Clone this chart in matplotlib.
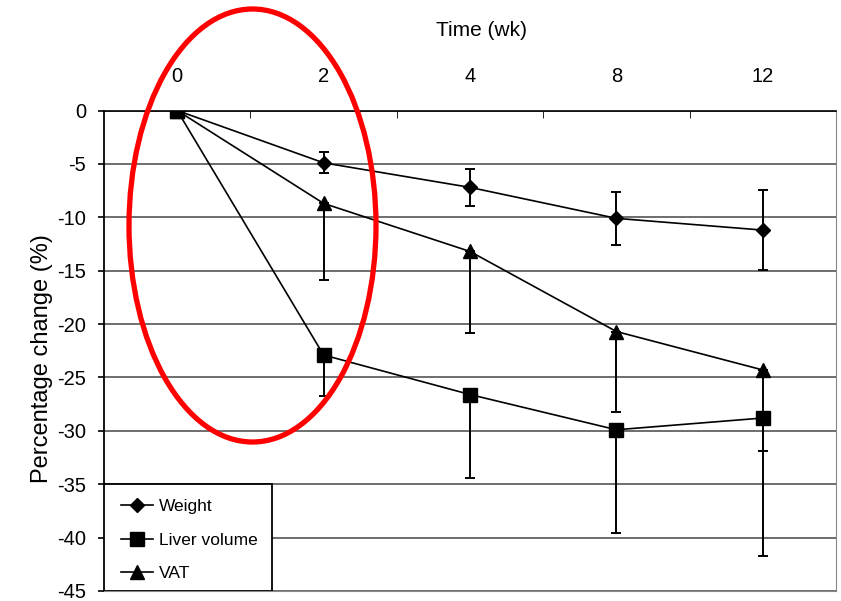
import matplotlib
matplotlib.use("Agg")
import matplotlib.pyplot as plt
from matplotlib.patches import Ellipse, Rectangle
from matplotlib.lines import Line2D
import numpy as np

plt.rcParams['font.family'] = ['Liberation Sans', 'DejaVu Sans']

# ---- data ----
weeks = ['0', '2', '4', '8', '12']
weight = [0, -4.9, -7.2, -10.1, -11.2]
weight_err = [0, 1.0, 1.7, 2.45, 3.75]
liver = [0, -22.9, -26.6, -29.9, -28.8]
liver_err_low = [0, 3.8, 7.8, 9.7, 12.9]
vat = [0, -8.7, -13.2, -20.7, -24.3]
vat_err_low = [0, 7.2, 7.6, 7.5, 7.6]
y_ticks = [0, -5, -10, -15, -20, -25, -30, -35, -40, -45]

fig = plt.figure(figsize=(8.41, 6.01), dpi=100)
ax = fig.add_axes([104/841, 1-591/601, 732/841, 480.5/601])

x = np.arange(len(weeks))
lw = 1.2
ekw = dict(ecolor='black', elinewidth=1.4, capsize=3.5, capthick=1.4)
styles = {'Weight': dict(marker='D', ms=7.5),
          'Liver volume': dict(marker='s', ms=9.5),
          'VAT': dict(marker='^', ms=9.5)}

ax.errorbar(x, weight, yerr=weight_err, color='black', lw=lw,
            mfc='black', mec='black', zorder=3, **styles['Weight'], **ekw)
ax.errorbar(x, vat, yerr=[vat_err_low, [0]*len(x)], color='black', lw=lw,
            mfc='black', mec='black', zorder=3, **styles['VAT'], **ekw)
ax.errorbar(x, liver, yerr=[liver_err_low, [0]*len(x)], color='black', lw=lw,
            mfc='black', mec='black', zorder=3, **styles['Liver volume'], **ekw)

ax.set_xlim(-0.5, len(weeks) - 0.5)
ax.set_ylim(-45, 0)
ax.set_yticks(y_ticks)
ax.set_yticklabels([str(v) for v in y_ticks], fontsize=14.5)
ax.yaxis.grid(True, color='#555555', lw=1.2)
ax.set_axisbelow(True)

ax.xaxis.tick_top()
ax.set_xticks(x)
ax.set_xticklabels(weeks, fontsize=14.5)
ax.tick_params(axis='x', which='major', length=0, pad=18)
ax.set_xticks(x[:-1] + 0.5, minor=True)
ax.tick_params(axis='x', which='minor', direction='in', length=5, top=True, bottom=False)
ax.tick_params(axis='y', length=4, width=1.2, pad=9)

ax.spines['left'].set_linewidth(1.3)
ax.spines['top'].set_linewidth(1.2)
ax.spines['right'].set_color('#888888')
ax.spines['right'].set_linestyle((0, (3, 1)))
ax.spines['bottom'].set_color('#888888')
ax.spines['bottom'].set_linestyle((0, (2, 1)))

# legend box
ax.add_patch(Rectangle((0, 0), 168/732, 10/45, transform=ax.transAxes,
                       facecolor='white', edgecolor='black', lw=1.3, zorder=4.5))
labels = ['Weight', 'Liver volume', 'VAT']
handles = [Line2D([], [], color='black', lw=lw, mfc='black', mec='black', **styles[k])
           for k in labels]
leg = ax.legend(handles, labels,
                loc='center left', bbox_to_anchor=(17/732, 0.106),
                frameon=False, fontsize=12.5, borderpad=0, borderaxespad=0,
                handlelength=1.85, handletextpad=0.35, labelspacing=1.05)
leg.set_zorder(5)

fig.text(481/841, 1-31/601, 'Time (wk)', ha='center', va='center', fontsize=15)
fig.text(42/841, 1-358.5/601, 'Percentage change (%)', ha='center', va='center',
         rotation=90, fontsize=17)

ell = Ellipse((252.5/841, 1-225.5/601), 247/841, 433/601, transform=fig.transFigure,
              fill=False, edgecolor='#ff0000', lw=3.8, clip_on=False, zorder=10)
fig.patches.append(ell)

fig.savefig('out.png', dpi=100)
